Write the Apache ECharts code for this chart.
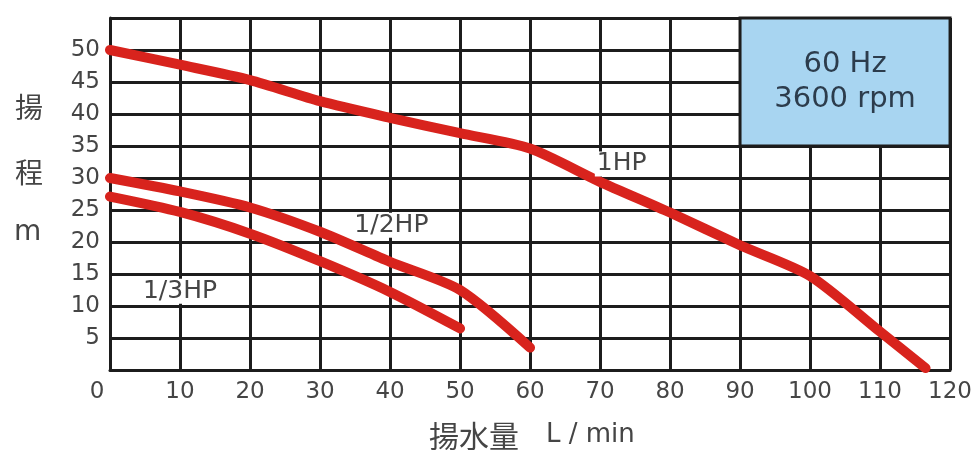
<!DOCTYPE html>
<html>
<head>
<meta charset="utf-8">
<script src="https://cdn.jsdelivr.net/npm/echarts@6/dist/echarts.min.js"></script>
<style>
html,body{margin:0;padding:0;background:#fff;}
#chart{width:975px;height:450px;}
</style>
</head>
<body>
<div id="chart"></div>
<script>
// Flow (L/min) vs head (m)
const hp1 = [[0,50],[10,47.7],[20,45.3],[30,42],[40,39.4],[50,37],[60,34.6],[70,29.4],[80,24.6],[90,19.5],[100,14.7],[110,6],[116.5,0.3]];
const hpHalf = [[0,30],[10,27.9],[20,25.4],[30,21.6],[40,16.9],[50,12.5],[60,3.5]];
const hpThird = [[0,27.1],[10,24.7],[20,21.3],[30,17],[40,12.2],[50,6.5]];
const seriesNames = ['1HP','1/2HP','1/3HP'];
const labelPos = [[73.1,32.2],[40.2,22.6],[10,12.3]];
const boxArea = [[90,35],[120,55]];
const boxText = '60 Hz\n3600 rpm';
const xTitleCJK = '揚水量';
const xTitleUnit = 'L / min';
const yTitle = ['揚','程','m'];

const RED = '#d8231d';
const GRID = '#1c1c1c';
const TXT = '#454545';
const FONT = 'DejaVu Sans';

function curve(name, data, pos, extra) {
  const s = {
    name: name, type: 'line', data: data, smooth: 0.25, symbol: 'none',
    lineStyle: {color: RED, width: 10, cap: 'round', join: 'round'},
    z: 3,
    markPoint: {
      symbol: 'circle', symbolSize: 0,
      data: [{coord: pos, value: name}],
      label: {show: true, position: 'inside', formatter: name, fontFamily: FONT, fontSize: 25,
              color: TXT, backgroundColor: '#fff', padding: [0, 2]}
    }
  };
  return Object.assign(s, extra || {});
}

const chart = echarts.init(document.getElementById('chart'));
chart.setOption({
  animation: false,
  backgroundColor: '#fff',
  grid: {left: 110, right: 23, top: 18, bottom: 80},
  xAxis: {
    type: 'value', min: 0, max: 120, interval: 10,
    axisLine: {show: true, lineStyle: {color: GRID, width: 3}},
    axisTick: {show: false},
    axisLabel: {fontFamily: FONT, fontSize: 23, color: TXT, margin: 11,
      formatter: v => v === 0 ? '{z|0}' : String(v),
      rich: {z: {fontFamily: FONT, fontSize: 23, color: TXT, padding: [0, 26, 0, 0]}}},
    splitLine: {show: true, lineStyle: {color: GRID, width: 3}}
  },
  yAxis: {
    type: 'value', min: 0, max: 55, interval: 5,
    axisLine: {show: true, lineStyle: {color: GRID, width: 3}},
    axisTick: {show: false},
    axisLabel: {fontFamily: FONT, fontSize: 23, color: TXT, margin: 10,
      formatter: v => (v === 0 || v === 55) ? '' : String(v)},
    splitLine: {show: true, lineStyle: {color: GRID, width: 3}}
  },
  graphic: [
    {type: 'text', left: 15, top: 93, style: {text: yTitle[0], font: '28px "Noto Sans CJK JP"', fill: TXT}},
    {type: 'text', left: 15, top: 158, style: {text: yTitle[1], font: '28px "Noto Sans CJK JP"', fill: TXT}},
    {type: 'text', left: 14, top: 219, style: {text: yTitle[2], font: '28px "DejaVu Sans"', fill: TXT}},
    {type: 'text', left: 429, top: 421, style: {text: xTitleCJK, font: '30px "Noto Sans CJK JP"', fill: TXT}},
    {type: 'text', left: 546, top: 422, style: {text: xTitleUnit, font: '26px "DejaVu Sans"', fill: TXT}}
  ],
  series: [
    curve(seriesNames[0], hp1, labelPos[0], {
      markArea: {
        silent: true,
        itemStyle: {color: '#a8d5f1', borderColor: GRID, borderWidth: 3},
        label: {show: true, position: 'inside', formatter: boxText, fontFamily: FONT,
                fontSize: 29, lineHeight: 35, color: '#2c3c4c', align: 'center'},
        data: [[{coord: boxArea[0]}, {coord: boxArea[1]}]]
      }
    }),
    curve(seriesNames[1], hpHalf, labelPos[1]),
    curve(seriesNames[2], hpThird, labelPos[2])
  ]
});
</script>
</body>
</html>
